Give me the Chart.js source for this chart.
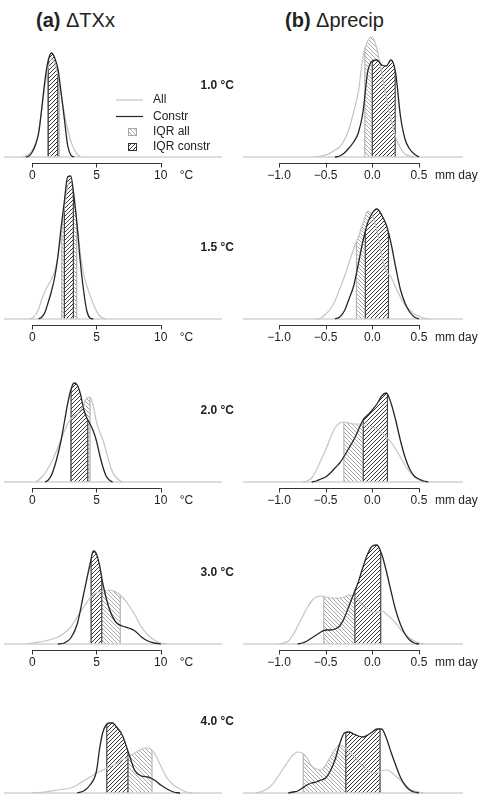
<!DOCTYPE html>
<html>
<head>
<meta charset="utf-8">
<script src="https://cdn.jsdelivr.net/npm/chart.js@4.4.1/dist/chart.umd.min.js"></script>
<style>
html,body{margin:0;padding:0;background:#fff;}
body{width:478px;height:794px;position:relative;overflow:hidden;font-family:"Liberation Sans",Arial,sans-serif;color:#222;}
canvas{position:absolute;}
.ttl{position:absolute;font-size:20px;line-height:22px;white-space:nowrap;}
.lvl{position:absolute;left:164px;width:70px;text-align:right;font-size:12px;line-height:14px;font-weight:bold;}
</style>
</head>
<body>
<div class="ttl" style="left:36px;top:9px"><b>(a)</b> ΔTXx</div>
<div class="ttl" style="left:285px;top:9px"><b>(b)</b> Δprecip</div>
<script>
/* ======================
   DATA
====================== */
const levels = ["1.0 °C", "1.5 °C", "2.0 °C", "3.0 °C", "4.0 °C"];
const txxTicks = [0, 5, 10];
const prTicks = [-1.0, -0.5, 0.0, 0.5];

// ΔTXx densities, [°C, density] – all models / constrained
const txxAll10 = [[-0.75,0],[-0.5,1],[-0.25,3],[0,7],[0.25,14],[0.5,26],[0.75,48],[1.0,72],[1.25,90],[1.5,98],[1.75,94],[2.0,82],[2.25,62],[2.5,44],[2.75,28],[3.0,16],[3.25,8],[3.5,3],[3.75,0]];
const txxConstr10 = [[-0.5,0],[-0.25,1],[0,5],[0.25,12],[0.5,24],[0.75,50],[1.0,78],[1.25,97],[1.5,104],[1.75,99],[2.0,88],[2.25,64],[2.5,38],[2.75,12],[3.0,2],[3.25,0]];
const txxAll15 = [[-0.25,0],[0,1],[0.25,4],[0.5,10],[0.75,20],[1.0,28],[1.25,34],[1.5,40],[1.75,48],[2.0,62],[2.25,85],[2.5,112],[2.75,132],[3.0,138],[3.25,124],[3.5,95],[3.75,65],[4.0,45],[4.25,33],[4.5,24],[4.75,15],[5.0,8],[5.25,3],[5.5,1],[5.75,0]];
const txxConstr15 = [[0.5,0],[0.75,2],[1.0,7],[1.25,17],[1.5,28],[1.75,42],[2.0,63],[2.25,92],[2.5,118],[2.75,142],[3.0,143],[3.25,122],[3.5,92],[3.75,56],[4.0,28],[4.25,8],[4.5,1],[4.75,0]];
const txxAll20 = [[0.25,0],[0.5,2],[0.75,5],[1.0,9],[1.25,14],[1.5,20],[1.75,27],[2.0,35],[2.25,43],[2.5,51],[2.75,58],[3.0,63],[3.25,66],[3.5,68],[3.75,72],[4.0,78],[4.25,84],[4.5,85],[4.75,76],[5.0,60],[5.25,50],[5.5,42],[5.75,31],[6.0,19],[6.25,10],[6.5,5],[6.75,2],[7.0,0]];
const txxConstr20 = [[1.0,0],[1.25,2],[1.5,7],[1.75,16],[2.0,28],[2.25,42],[2.5,60],[2.75,78],[3.0,92],[3.25,99],[3.5,97],[3.75,88],[4.0,73],[4.25,64],[4.5,58],[4.75,51],[5.0,41],[5.25,27],[5.5,15],[5.75,6],[6.0,2],[6.25,0]];
const txxAll30 = [[-0.5,0],[0,1],[1.0,3],[2.0,7],[2.5,11],[3.0,17],[3.5,27],[4.0,37],[4.5,46],[5.0,51],[5.5,53],[6.0,54],[6.5,52],[7.0,47],[7.5,39],[8.0,29],[8.5,17],[9.0,9],[9.5,4],[10.0,1],[10.5,0]];
const txxConstr30 = [[2.0,0],[2.5,1],[3.0,6],[3.5,20],[4.0,50],[4.5,80],[4.75,93],[5.0,90],[5.25,78],[5.5,60],[6.0,35],[6.5,22],[7.0,18],[7.5,16],[8.0,13],[8.5,7],[9.0,3],[9.5,1],[10.0,0]];
const txxAll40 = [[0,0],[1.0,1],[2.0,3],[3.0,5],[3.5,8],[4.0,12],[4.5,16],[5.0,20],[5.5,23],[6.0,26],[6.5,29],[7.0,33],[7.5,36],[8.0,40],[8.5,44],[9.0,45],[9.5,40],[10.0,27],[10.5,15],[11.0,8],[11.5,4],[12.0,1],[12.5,0]];
const txxConstr40 = [[3.5,0],[4.0,2],[4.5,8],[5.0,22],[5.25,45],[5.5,61],[5.75,68],[6.0,70],[6.25,70],[6.5,67],[7.0,58],[7.5,40],[8.0,22],[8.5,17],[9.0,16],[9.5,13],[10.0,8],[10.5,4],[11.0,1],[11.5,0]];

// Δprecip densities, [mm/day, density]
const prAll10 = [[-0.6,0],[-0.55,1],[-0.5,2],[-0.45,4],[-0.4,7],[-0.35,10],[-0.3,17],[-0.25,28],[-0.2,45],[-0.15,65],[-0.1,100],[-0.05,116],[0.0,120],[0.05,108],[0.1,85],[0.15,60],[0.2,38],[0.25,20],[0.3,9],[0.35,3],[0.4,1],[0.45,0]];
const prConstr10 = [[-0.4,0],[-0.35,1],[-0.3,4],[-0.25,9],[-0.2,15],[-0.15,24],[-0.1,45],[-0.05,85],[0.0,96],[0.05,97],[0.1,92],[0.15,91],[0.2,97],[0.25,84],[0.3,42],[0.35,18],[0.4,8],[0.45,3],[0.5,0]];
const prAll15 = [[-0.6,0],[-0.55,1],[-0.5,5],[-0.45,10],[-0.4,18],[-0.35,30],[-0.3,42],[-0.25,56],[-0.2,70],[-0.15,82],[-0.1,96],[-0.05,108],[0.0,104],[0.05,88],[0.1,64],[0.15,48],[0.2,42],[0.25,32],[0.3,22],[0.35,14],[0.4,9],[0.45,5],[0.5,3],[0.55,1],[0.6,0]];
const prConstr15 = [[-0.4,0],[-0.35,2],[-0.3,8],[-0.25,20],[-0.2,33],[-0.15,55],[-0.1,78],[-0.05,96],[0.0,106],[0.05,110],[0.1,104],[0.15,94],[0.2,76],[0.25,52],[0.3,30],[0.35,16],[0.4,7],[0.45,2],[0.5,0]];
const prAll20 = [[-0.75,0],[-0.7,1],[-0.65,4],[-0.6,12],[-0.55,22],[-0.5,32],[-0.45,44],[-0.4,54],[-0.35,59],[-0.3,60],[-0.25,59],[-0.2,58],[-0.15,58],[-0.1,57],[-0.05,56],[0.0,55],[0.05,53],[0.1,49],[0.15,45],[0.2,40],[0.25,33],[0.3,25],[0.35,17],[0.4,10],[0.45,5],[0.5,2],[0.55,0]];
const prConstr20 = [[-0.65,0],[-0.6,1],[-0.55,3],[-0.5,5],[-0.45,9],[-0.4,14],[-0.35,19],[-0.3,26],[-0.25,34],[-0.2,42],[-0.15,52],[-0.1,62],[-0.05,67],[0.0,72],[0.05,78],[0.1,86],[0.15,89],[0.2,79],[0.25,62],[0.3,42],[0.35,25],[0.4,13],[0.45,6],[0.5,3],[0.55,1],[0.6,0]];
const prAll30 = [[-1.0,0],[-0.95,1],[-0.9,3],[-0.85,9],[-0.8,18],[-0.75,27],[-0.7,36],[-0.65,43],[-0.6,47],[-0.55,48],[-0.5,47],[-0.45,46],[-0.4,46],[-0.35,46],[-0.3,47],[-0.25,49],[-0.2,48],[-0.15,44],[-0.1,39],[-0.05,35],[0.0,32],[0.05,32],[0.1,33],[0.15,30],[0.2,26],[0.25,21],[0.3,15],[0.35,10],[0.4,6],[0.45,3],[0.5,1],[0.55,0]];
const prConstr30 = [[-0.8,0],[-0.75,1],[-0.7,3],[-0.65,6],[-0.6,9],[-0.55,12],[-0.5,14],[-0.45,14],[-0.4,15],[-0.35,18],[-0.3,26],[-0.25,38],[-0.2,50],[-0.15,62],[-0.1,77],[-0.05,90],[0.0,98],[0.05,99],[0.1,90],[0.15,73],[0.2,53],[0.25,34],[0.3,20],[0.35,10],[0.4,4],[0.45,1],[0.5,0]];
const prAll40 = [[-1.25,0],[-1.2,1],[-1.15,3],[-1.1,6],[-1.05,11],[-1.0,18],[-0.95,25],[-0.9,32],[-0.85,38],[-0.8,41],[-0.75,40],[-0.7,35],[-0.65,27],[-0.6,24],[-0.55,23],[-0.5,28],[-0.45,36],[-0.4,44],[-0.35,48],[-0.3,46],[-0.25,42],[-0.2,37],[-0.15,32],[-0.1,27],[-0.05,23],[0.0,20],[0.05,20],[0.1,22],[0.15,23],[0.2,21],[0.25,17],[0.3,13],[0.35,8],[0.4,4],[0.45,2],[0.5,1],[0.55,0]];
const prConstr40 = [[-0.9,0],[-0.85,1],[-0.8,2],[-0.75,5],[-0.7,8],[-0.65,10],[-0.6,11],[-0.55,13],[-0.5,15],[-0.45,22],[-0.4,33],[-0.35,49],[-0.3,60],[-0.25,61],[-0.2,59],[-0.15,57],[-0.1,56],[-0.05,58],[0.0,61],[0.05,64],[0.1,64],[0.15,55],[0.2,41],[0.25,28],[0.3,16],[0.35,8],[0.4,3],[0.45,1],[0.5,0]];

// interquartile ranges [q25, q75]
const txxIqrAll = [[1.2,2.1],[2.29,3.46],[3.0,4.5],[4.6,6.85],[6.0,9.32]];
const txxIqrConstr = [[1.25,1.98],[2.5,3.2],[3.02,4.32],[4.58,5.41],[5.8,7.45]];
const prIqrAll = [[-0.08,0.22],[-0.17,0.12],[-0.305,0.05],[-0.52,-0.05],[-0.74,-0.1]];
const prIqrConstr = [[0.0,0.245],[-0.075,0.173],[-0.097,0.162],[-0.187,0.09],[-0.284,0.083]];

const txxAll = [txxAll10, txxAll15, txxAll20, txxAll30, txxAll40];
const txxConstr = [txxConstr10, txxConstr15, txxConstr20, txxConstr30, txxConstr40];
const prAll = [prAll10, prAll15, prAll20, prAll30, prAll40];
const prConstr = [prConstr10, prConstr15, prConstr20, prConstr30, prConstr40];

/* ======================
   LAYOUT / STYLE
====================== */
const baselines = [157, 319, 482, 644, 793];
const FONT = '"Liberation Sans", Arial, sans-serif';
const GREY = "#c4c4c4";
const DARK = "#262626";

function hatch(color, back, rising) {
  const s = 4;
  const c = document.createElement("canvas");
  c.width = s; c.height = s;
  const g = c.getContext("2d");
  if (back) { g.fillStyle = back; g.fillRect(0, 0, s, s); }
  g.strokeStyle = color;
  g.lineWidth = 1;
  g.beginPath();
  if (rising) {
    g.moveTo(-1, s + 1); g.lineTo(s + 1, -1);
    g.moveTo(-1, 1); g.lineTo(1, -1);
    g.moveTo(s - 1, s + 1); g.lineTo(s + 1, s - 1);
  } else {
    g.moveTo(-1, -1); g.lineTo(s + 1, s + 1);
    g.moveTo(-1, s - 1); g.lineTo(1, s + 1);
    g.moveTo(s - 1, -1); g.lineTo(s + 1, 1);
  }
  g.stroke();
  return g.createPattern(c, "repeat");
}
const hatchAll = hatch("#a6a6a6", null, false);
const hatchConstr = hatch("#383838", "#fff", true);

const toXY = arr => arr.map(p => ({x: p[0], y: p[1]}));

// fill the area under a curve between lo and hi with a hatch, plus edge lines
function shadeIqr(chart, idx, lo, hi, pattern, edge) {
  const {ctx, chartArea, scales: {x, y}} = chart;
  const meta = chart.getDatasetMeta(idx);
  const line = meta.dataset;
  const pts = meta.data;
  line.updateControlPoints(chartArea, "x");
  const x0 = x.getPixelForValue(lo), x1 = x.getPixelForValue(hi);
  const yb = y.getPixelForValue(0);
  ctx.save();
  ctx.beginPath();
  line.path(ctx);
  ctx.lineTo(pts[pts.length - 1].x, yb);
  ctx.lineTo(pts[0].x, yb);
  ctx.closePath();
  ctx.clip();
  ctx.fillStyle = pattern;
  ctx.fillRect(x0, chartArea.top, x1 - x0, yb - chartArea.top);
  ctx.strokeStyle = edge;
  ctx.lineWidth = 1.2;
  ctx.beginPath();
  ctx.moveTo(x0, chartArea.top); ctx.lineTo(x0, yb);
  ctx.moveTo(x1, chartArea.top); ctx.lineTo(x1, yb);
  ctx.stroke();
  ctx.restore();
}

function drawLegend(ctx, top) {
  const L = (y) => y - top;
  ctx.save();
  ctx.lineWidth = 1.2;
  ctx.strokeStyle = GREY;
  ctx.beginPath(); ctx.moveTo(116, L(100)); ctx.lineTo(143, L(100)); ctx.stroke();
  ctx.strokeStyle = DARK;
  ctx.beginPath(); ctx.moveTo(116, L(116.5)); ctx.lineTo(143, L(116.5)); ctx.stroke();
  ctx.fillStyle = hatchAll; ctx.fillRect(128, L(128), 9, 8);
  ctx.strokeStyle = "#a6a6a6"; ctx.lineWidth = 1; ctx.strokeRect(128.5, L(128) + 0.5, 8, 7);
  ctx.fillStyle = hatchConstr; ctx.fillRect(128, L(143), 9, 8);
  ctx.strokeStyle = "#333"; ctx.strokeRect(128.5, L(143) + 0.5, 8, 7);
  ctx.fillStyle = "#222";
  ctx.font = "12px " + FONT;
  ctx.textAlign = "left"; ctx.textBaseline = "middle";
  ctx.fillText("All", 153, L(100));
  ctx.fillText("Constr", 153, L(116.5));
  ctx.fillText("IQR all", 153, L(132));
  ctx.fillText("IQR constr", 153, L(147));
  ctx.restore();
}

function panel(o) {
  const H = 185, top = o.yb - 150;
  const cv = document.createElement("canvas");
  cv.width = o.width; cv.height = H;
  cv.style.left = o.left + "px"; cv.style.top = top + "px";
  cv.style.width = o.width + "px"; cv.style.height = H + "px";
  document.body.appendChild(cv);

  const rAxis = {
    id: "rAxis",
    beforeDatasetsDraw(chart) {
      shadeIqr(chart, 1, o.iqrAll[0], o.iqrAll[1], hatchAll, "#b4b4b4");
      shadeIqr(chart, 0, o.iqrConstr[0], o.iqrConstr[1], hatchConstr, "#444");
    },
    afterDraw(chart) {
      const {ctx, chartArea: {bottom}, scales: {x}} = chart;
      const px = o.ticks.map(v => x.getPixelForValue(v));
      ctx.save();
      ctx.strokeStyle = "#333"; ctx.lineWidth = 1;
      ctx.beginPath();
      ctx.moveTo(px[0], bottom + 0.5); ctx.lineTo(px[px.length - 1], bottom + 0.5);
      px.forEach(p => { ctx.moveTo(Math.round(p) + 0.5, bottom); ctx.lineTo(Math.round(p) + 0.5, bottom + 4.5); });
      ctx.stroke();
      ctx.fillStyle = "#222";
      ctx.font = "12px " + FONT;
      ctx.textAlign = "center"; ctx.textBaseline = "middle";
      o.ticks.forEach((v, i) => ctx.fillText(o.fmt(v), px[i], bottom + 12.5));
      ctx.textAlign = "left";
      ctx.fillText(o.unit, px[px.length - 1] + o.unitGap, bottom + 12.5);
      if (o.legend) drawLegend(ctx, top);
      ctx.restore();
    }
  };

  new Chart(cv, {
    type: "line",
    data: {
      datasets: [
        {label: "Constr", data: toXY(o.constr), borderColor: DARK, borderWidth: 1.3, order: 1},
        {label: "All", data: toXY(o.all), borderColor: GREY, borderWidth: 1.2, order: 2},
        {label: "zero", data: [{x: o.range[0], y: 0}, {x: o.range[1], y: 0}], borderColor: "#d2d2d2", borderWidth: 1.5, order: 3}
      ]
    },
    options: {
      responsive: false,
      animation: false,
      events: [],
      elements: {point: {radius: 0}, line: {cubicInterpolationMode: "monotone", fill: false}},
      layout: {padding: {left: o.padL, right: o.padR, top: 0, bottom: 29}},
      scales: {
        x: {type: "linear", min: o.range[0], max: o.range[1], display: false},
        y: {type: "linear", min: -6, max: 150, display: false}
      },
      plugins: {legend: {display: false}, tooltip: {enabled: false}}
    },
    plugins: [rAxis]
  });
}

levels.forEach((lvl, i) => {
  panel({
    left: 0, width: 240, yb: baselines[i], padL: 4, padR: 18,
    range: [-2.2, 14.77], ticks: txxTicks, fmt: v => String(v),
    unit: "°C", unitGap: 19,
    all: txxAll[i], constr: txxConstr[i],
    iqrAll: txxIqrAll[i], iqrConstr: txxIqrConstr[i],
    legend: i === 0
  });
  panel({
    left: 240, width: 238, yb: baselines[i], padL: 3, padR: 15,
    range: [-1.386, 0.972], ticks: prTicks, fmt: v => v.toFixed(1).replace("-", "\u2212"),
    unit: "mm day\u207B\u00B9", unitGap: 16,
    all: prAll[i], constr: prConstr[i],
    iqrAll: prIqrAll[i], iqrConstr: prIqrConstr[i],
    legend: false
  });
  const d = document.createElement("div");
  d.className = "lvl";
  d.style.top = (baselines[i] - 72 - 7) + "px";
  d.textContent = lvl;
  document.body.appendChild(d);
});
</script>
</body>
</html>
